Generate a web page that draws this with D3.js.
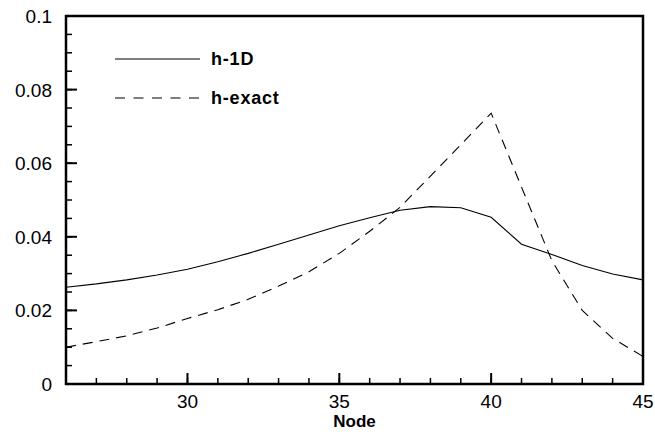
<!DOCTYPE html>
<html><head><meta charset="utf-8">
<script src="https://cdn.jsdelivr.net/npm/d3@7"></script>
<style>body{margin:0;background:#fff}svg{display:block}text{font-family:"Liberation Sans",Arial,sans-serif;fill:#000}</style>
</head><body><svg id="c" width="655" height="432"></svg>
<script>
const nodes = [26,27,28,29,30,31,32,33,34,35,36,37,38,39,40,41,42,43,44,45];
const h1D =   [0.0263,0.0272,0.0283,0.0296,0.0312,0.0332,0.0355,0.0380,0.0405,0.0430,0.0452,0.0472,0.0482,0.0479,0.0453,0.0380,0.0352,0.0322,0.0299,0.0283];
const hExact =[0.0100,0.0115,0.0131,0.0152,0.0178,0.0202,0.0230,0.0266,0.0305,0.0355,0.0415,0.0480,0.0565,0.0650,0.0736,0.0535,0.0335,0.0200,0.0124,0.0075];
const xTicks = [30,35,40,45];
const yTicks = [0,0.02,0.04,0.06,0.08,0.1];
const seriesNames = ["h-1D","h-exact"];
const xTitle = "Node";

const svg = d3.select("#c");
const L=66,R=643,T=16,B=384;
const x = d3.scaleLinear().domain([26,45]).range([L,R]);
const y = d3.scaleLinear().domain([0,0.1]).range([B,T]);

const xMinor = d3.range(26,46,1);
const yMinor = d3.range(0,0.1001,0.005);
const g = svg.append("g");
g.selectAll(".xm").data(xMinor).join("line")
  .attr("x1",d=>x(d)).attr("x2",d=>x(d)).attr("y1",B).attr("y2",B-6)
  .attr("stroke","#000").attr("stroke-width",1.5);
g.selectAll(".xM").data(xTicks).join("line")
  .attr("x1",d=>x(d)).attr("x2",d=>x(d)).attr("y1",B).attr("y2",B-11)
  .attr("stroke","#000").attr("stroke-width",2);
g.selectAll(".ym").data(yMinor).join("line")
  .attr("y1",d=>y(d)).attr("y2",d=>y(d)).attr("x1",L).attr("x2",L+6)
  .attr("stroke","#000").attr("stroke-width",1.5);
g.selectAll(".yM").data(yTicks).join("line")
  .attr("y1",d=>y(d)).attr("y2",d=>y(d)).attr("x1",L).attr("x2",L+11)
  .attr("stroke","#000").attr("stroke-width",2);

svg.append("rect").attr("x",L).attr("y",T).attr("width",R-L).attr("height",B-T)
  .attr("fill","none").attr("stroke","#000").attr("stroke-width",2.5);

g.selectAll(".xl").data(xTicks).join("text")
  .attr("x",d=>x(d)).attr("y",408).attr("text-anchor","middle")
  .style("font-size","19px").text(d=>d);
g.selectAll(".yl").data(yTicks).join("text")
  .attr("x",52).attr("y",d=>y(d)+7).attr("text-anchor","end")
  .style("font-size","19px").text(d=>d===0?"0":d3.format("~g")(d));
svg.append("text").attr("x",(L+R)/2).attr("y",427).attr("text-anchor","middle")
  .style("font-size","17px").style("font-weight","bold").text(xTitle);

const line = d3.line().x((d,i)=>x(nodes[i])).y(d=>y(d));
svg.append("path").attr("d",line(h1D)).attr("fill","none").attr("stroke","#000").attr("stroke-width",1.1);
svg.append("path").attr("d",line(hExact)).attr("fill","none").attr("stroke","#000").attr("stroke-width",1.1)
  .attr("stroke-dasharray","10,7");

const leg = [{n:seriesNames[0],y:59,dash:null},{n:seriesNames[1],y:98,dash:"10,8.5"}];
leg.forEach(d=>{
  svg.append("line").attr("x1",115).attr("x2",200).attr("y1",d.y).attr("y2",d.y)
    .attr("stroke","#000").attr("stroke-width",1.1).attr("stroke-dasharray",d.dash);
  svg.append("text").attr("x",211).attr("y",d.y+6).style("font-size","18px").style("font-weight","bold")
    .style("letter-spacing","0.8px").text(d.n);
});
</script></body></html>
